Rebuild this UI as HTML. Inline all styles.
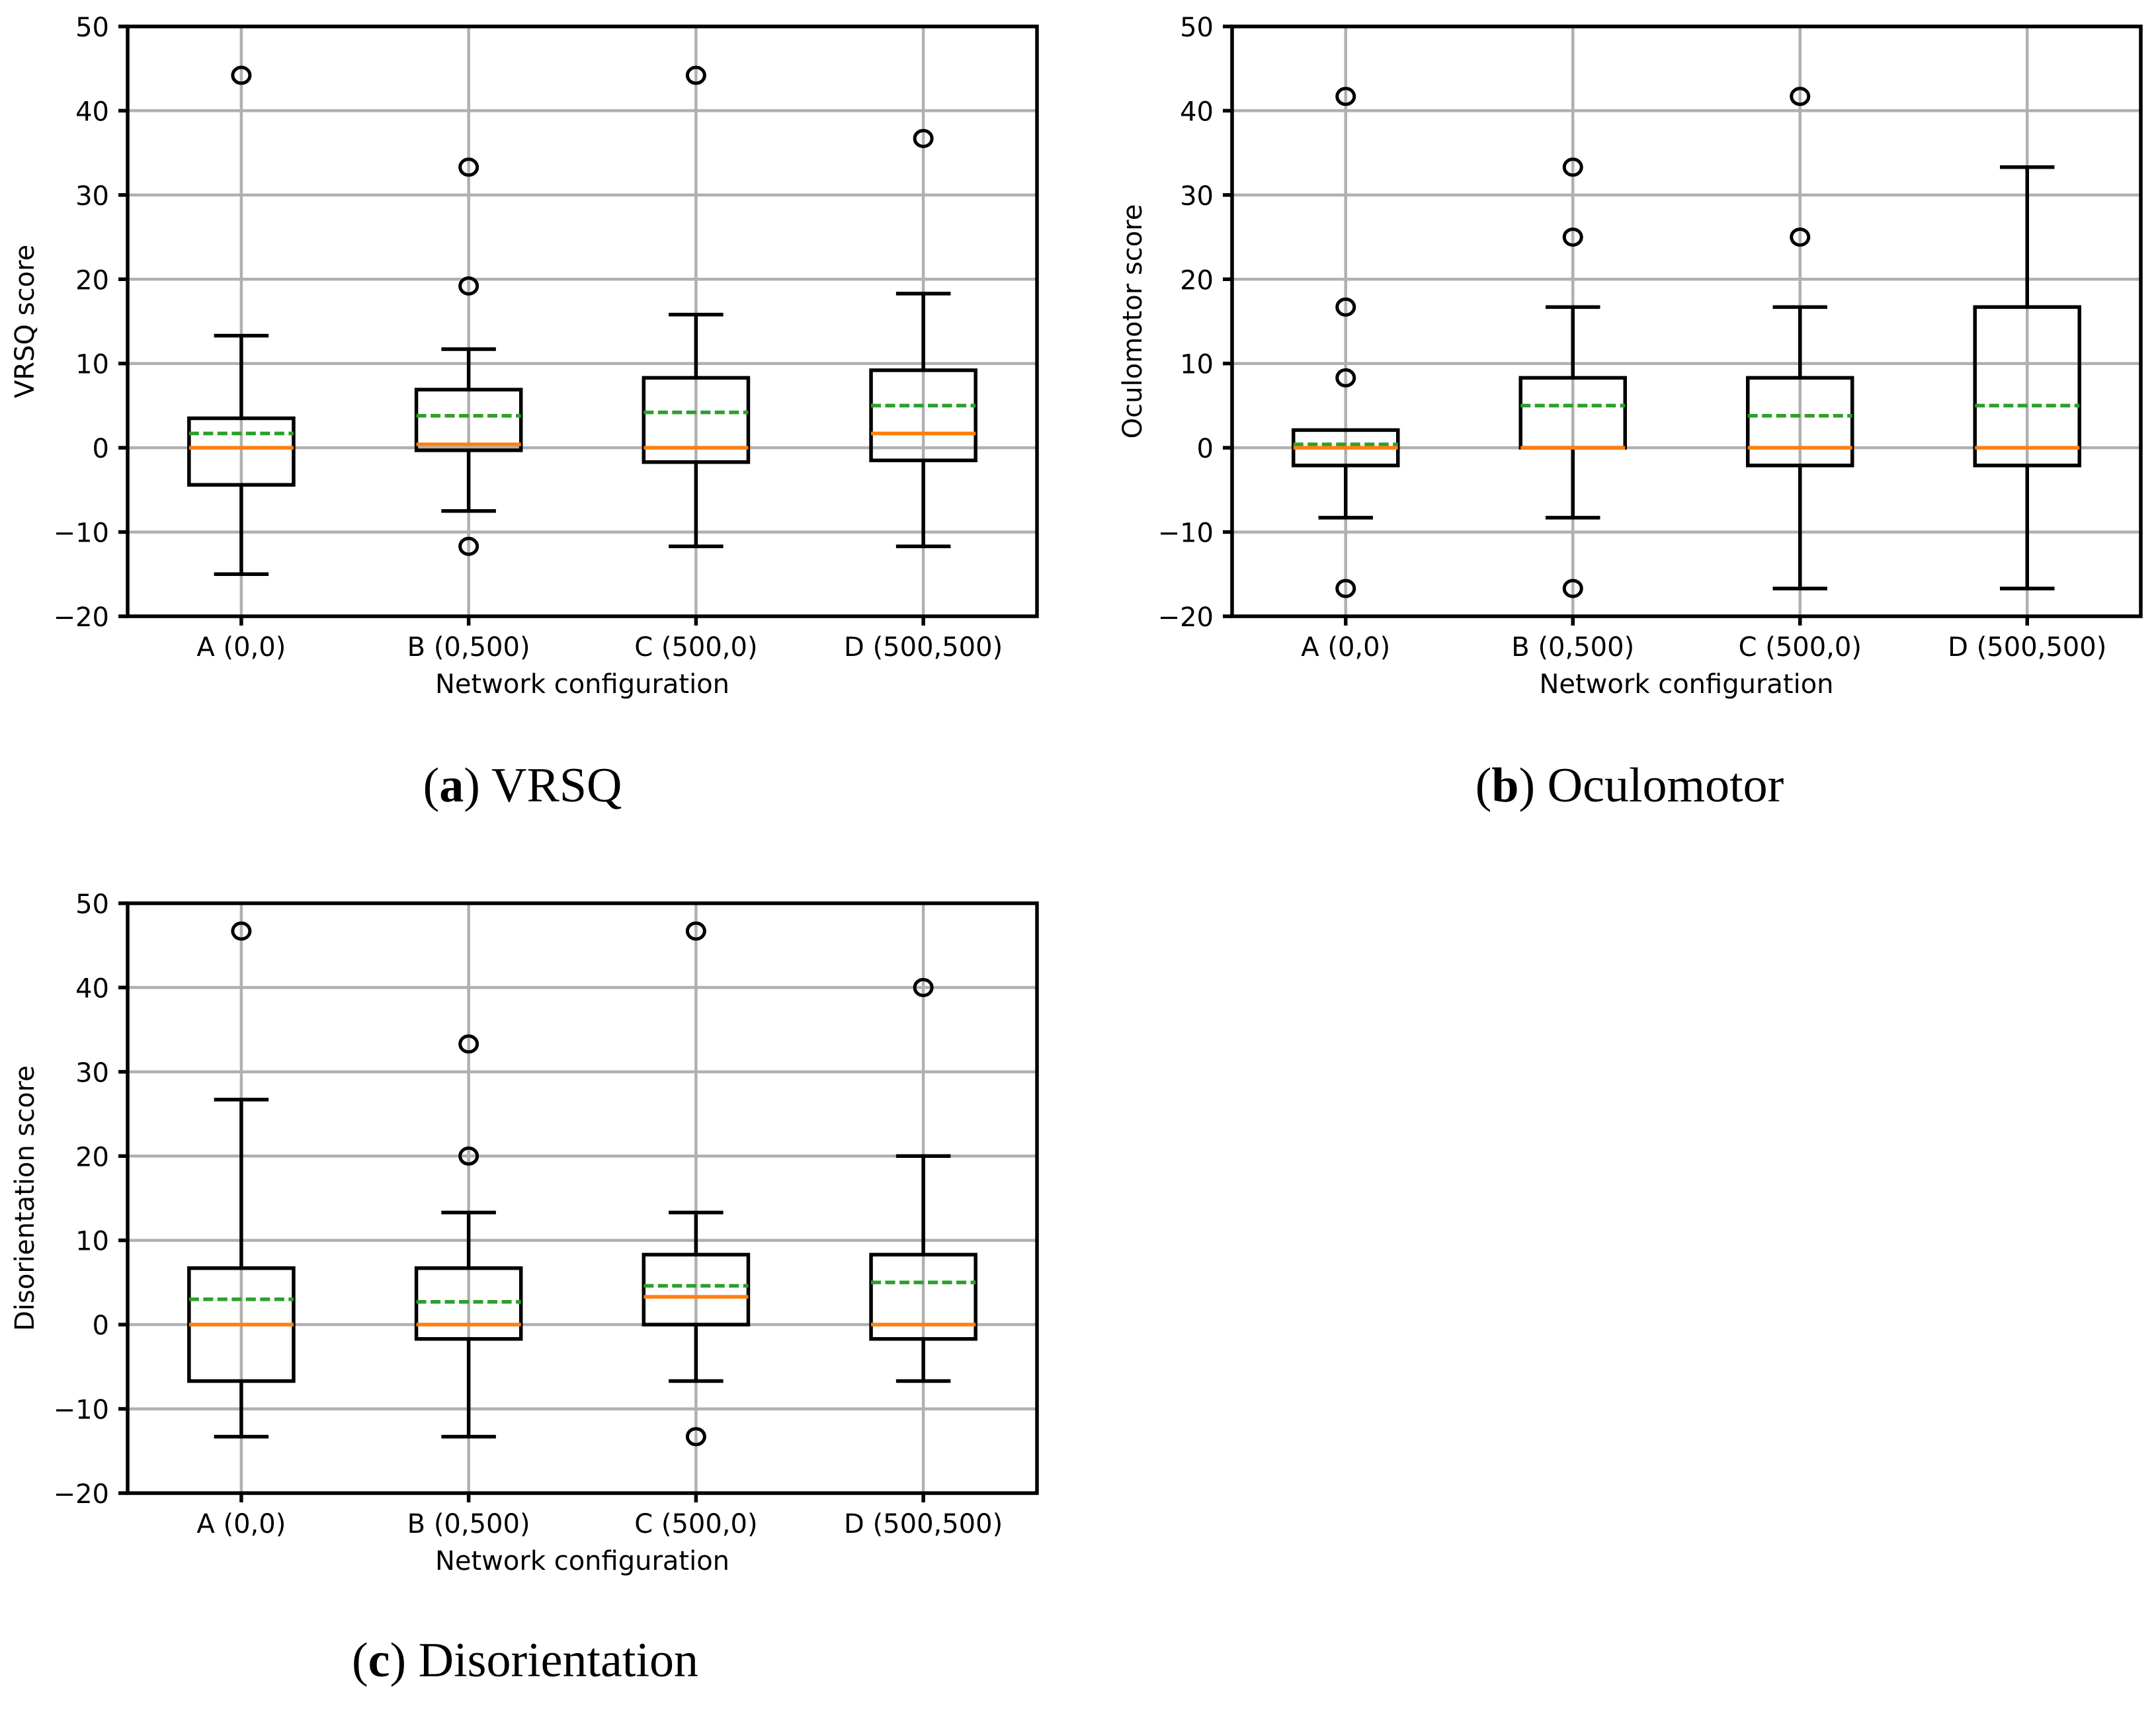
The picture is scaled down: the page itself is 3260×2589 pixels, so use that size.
<!DOCTYPE html>
<html><head><meta charset="utf-8"><style>
html,body{margin:0;padding:0;background:#fff}
svg{display:block}
text{font-family:"DejaVu Sans","Liberation Sans",sans-serif}
.cap{font-family:"Liberation Serif",serif}
</style></head><body>
<svg id="fig" width="3260" height="2589" viewBox="0 0 3260 2589" xmlns="http://www.w3.org/2000/svg"></svg>
<script>
const categories = ["A (0,0)","B (0,500)","C (500,0)","D (500,500)"];
const yTicks = [-20,-10,0,10,20,30,40,50];
// panel a VRSQ
const aLo=[-15,-7.5,-11.7,-11.7], aQ1=[-4.4,-0.3,-1.7,-1.5], aMed=[0,0.4,0,1.7], aMean=[1.7,3.8,4.2,5.0], aQ3=[3.5,6.9,8.3,9.2], aHi=[13.3,11.7,15.8,18.3];
const aFliers=[[44.2],[33.3,19.2,-11.7],[44.2],[36.7]];
// panel b Oculomotor
const bLo=[-8.3,-8.3,-16.7,-16.7], bQ1=[-2.1,0,-2.1,-2.1], bMed=[0,0,0,0], bMean=[0.4,5.0,3.8,5.0], bQ3=[2.1,8.3,8.3,16.7], bHi=[2.1,16.7,16.7,33.3];
const bFliers=[[41.7,16.7,8.3,-16.7],[33.3,25,-16.7],[41.7,25],[]];
// panel c Disorientation
const cLo=[-13.3,-13.3,-6.7,-6.7], cQ1=[-6.7,-1.7,0,-1.7], cMed=[0,0,3.3,0], cMean=[3.0,2.7,4.6,5.0], cQ3=[6.7,6.7,8.3,8.3], cHi=[26.7,13.3,13.3,20];
const cFliers=[[46.7],[33.3,20],[46.7,-13.3],[40]];

const NS="http://www.w3.org/2000/svg";
const svg=document.getElementById('fig');
function mk(tag,attrs,parent,name){const e=document.createElementNS(NS,tag);for(const k in attrs)e.setAttribute(k,attrs[k]);


(parent||svg).appendChild(e);return e;}

const LW=5.5, GW=4.5;
function panel(id,L,R,T,B,ylabel,ylabX,caption,capX,capY,lo,q1,med,mean,q3,hi,fl){
  const g=mk('g',{},svg,id);
  const y=v=>B-(v+20)/70*(B-T);
  const x=i=>L+(i+0.5)/4*(R-L);
  const unit=(R-L)/4;
  yTicks.forEach(t=>{mk('line',{x1:L,x2:R,y1:y(t),y2:y(t),stroke:'#b0b0b0','stroke-width':GW},g,'y-gridline');});
  categories.forEach((c,i)=>{mk('line',{x1:x(i),x2:x(i),y1:T,y2:B,stroke:'#b0b0b0','stroke-width':GW},g,'x-gridline');});
  categories.forEach((c,i)=>{
    const cx=x(i),hw=unit*0.23,cw=unit*0.12;
    mk('line',{x1:cx,x2:cx,y1:y(q1[i]),y2:y(lo[i]),stroke:'#000','stroke-width':LW},g,'whisker-low');
    mk('line',{x1:cx,x2:cx,y1:y(q3[i]),y2:y(hi[i]),stroke:'#000','stroke-width':LW},g,'whisker-high');
    mk('line',{x1:cx-cw,x2:cx+cw,y1:y(lo[i]),y2:y(lo[i]),stroke:'#000','stroke-width':LW},g,'cap-low');
    if(hi[i]>q3[i]) mk('line',{x1:cx-cw,x2:cx+cw,y1:y(hi[i]),y2:y(hi[i]),stroke:'#000','stroke-width':LW},g,'cap-high');
    mk('rect',{x:cx-hw,y:y(q3[i]),width:2*hw,height:y(q1[i])-y(q3[i]),fill:'none',stroke:'#000','stroke-width':LW},g,'box-'+i);
    mk('line',{x1:cx-hw,x2:cx+hw,y1:y(mean[i]),y2:y(mean[i]),stroke:'#2ca02c','stroke-width':LW,'stroke-dasharray':'15 6.5'},g,'mean-line');
    mk('line',{x1:cx-hw,x2:cx+hw,y1:y(med[i]),y2:y(med[i]),stroke:'#ff7f0e','stroke-width':LW},g,'median-line');
    fl[i].forEach(v=>{mk('ellipse',{cx:cx,cy:y(v),rx:13,ry:12,fill:'none',stroke:'#000','stroke-width':5},g,'flier');});
    mk('line',{x1:cx,x2:cx,y1:B,y2:B+14,stroke:'#000','stroke-width':LW},g,'x-tick');
    const t=mk('text',{x:cx,y:B+60,'font-size':40,'text-anchor':'middle'},g,'x-tick-label');t.textContent=c;
  });
  mk('rect',{x:L,y:T,width:R-L,height:B-T,fill:'none',stroke:'#000','stroke-width':LW},g,'axes-frame');
  yTicks.forEach(t=>{
    mk('line',{x1:L-14,x2:L,y1:y(t),y2:y(t),stroke:'#000','stroke-width':LW},g,'y-tick');
    const tx=mk('text',{x:L-28,y:y(t)+15,'font-size':40,'text-anchor':'end'},g,'y-tick-label');tx.textContent=(t<0?'\u2212'+(-t):t);
  });
  const xl=mk('text',{x:(L+R)/2,y:B+116,'font-size':40,'text-anchor':'middle'},g,'x-axis-title');xl.textContent='Network configuration';
  const yl=mk('text',{x:0,y:0,'font-size':40,'text-anchor':'middle',transform:`translate(${ylabX+14},${(T+B)/2}) rotate(-90)`},g,'y-axis-title');yl.textContent=ylabel;
  const cp=mk('text',{x:capX,y:capY,'font-size':74,'text-anchor':'middle',class:'cap'},g,'panel-caption');
  const b1=document.createElementNS(NS,'tspan');b1.textContent='(';cp.appendChild(b1);
  const b2=document.createElementNS(NS,'tspan');b2.setAttribute('font-weight','bold');b2.textContent=caption[0];cp.appendChild(b2);
  const b3=document.createElementNS(NS,'tspan');b3.textContent=') '+caption[1];cp.appendChild(b3);
}
panel('panel-a-vrsq',193,1568,40,932,'VRSQ score',37,['a','VRSQ'],790,1212,aLo,aQ1,aMed,aMean,aQ3,aHi,aFliers);
panel('panel-b-oculomotor',1863,3237,40,932,'Oculomotor score',1712,['b','Oculomotor'],2464,1212,bLo,bQ1,bMed,bMean,bQ3,bHi,bFliers);
panel('panel-c-disorientation',193,1568,1366,2258,'Disorientation score',37,['c','Disorientation'],794,2535,cLo,cQ1,cMed,cMean,cQ3,cHi,cFliers);
</script>
</body></html>
